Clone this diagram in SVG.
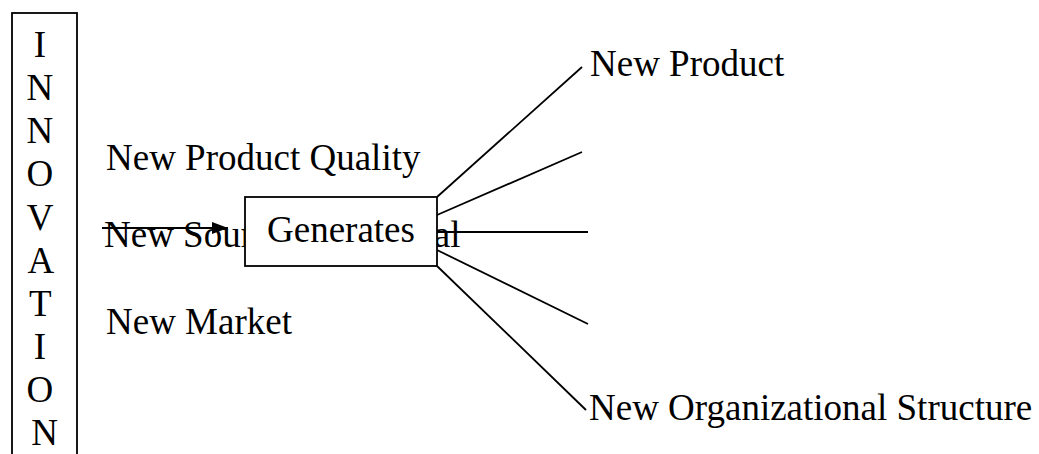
<svg xmlns="http://www.w3.org/2000/svg" width="1039" height="454" viewBox="0 0 1039 454">
<style>
text{font-family:"Liberation Serif","Times New Roman",serif;font-size:37px;fill:#000}
.ln{stroke:#000;stroke-width:1.8;fill:none}
.bx{stroke:#000;stroke-width:1.8;fill:#fff}
</style>
<defs>
<marker id="ah" markerWidth="16" markerHeight="12" refX="16" refY="6" orient="auto" markerUnits="userSpaceOnUse">
<path d="M0,0 L16,6 L0,12 Z" fill="#000"/>
</marker>
</defs>
<rect width="1039" height="454" fill="#fff"/>
<g id="innovation">
<rect class="bx" x="12" y="13" width="65" height="460"/>
<text x="44.5" text-anchor="middle">
<tspan x="44.5" y="57">I</tspan>
<tspan x="44.5" y="100">N</tspan>
<tspan x="44.5" y="143">N</tspan>
<tspan x="44.5" y="186">O</tspan>
<tspan x="44.5" y="230">V</tspan>
<tspan x="44.5" y="273">A</tspan>
<tspan x="44.5" y="316">T</tspan>
<tspan x="44.5" y="359">I</tspan>
<tspan x="44.5" y="402">O</tspan>
<tspan x="44.5" y="445">N</tspan>
</text>
</g>
<g id="quality"><text x="106" y="170">New Product Quality</text></g>
<g id="source"><text x="104" y="247">New Source of Material</text></g>
<g id="market"><text x="106" y="334">New Market</text></g>
<g id="product"><text x="590" y="76">New Product</text></g>
<g id="org"><text x="589" y="420">New Organizational Structure</text></g>
<g id="connectors">
<line class="ln" x1="102" y1="228" x2="228" y2="228" marker-end="url(#ah)"/>
<line class="ln" x1="437" y1="197" x2="582" y2="67"/>
<line class="ln" x1="437" y1="215" x2="582" y2="152"/>
<line class="ln" x1="437" y1="232" x2="588" y2="232"/>
<line class="ln" x1="437" y1="250" x2="588" y2="324"/>
<line class="ln" x1="437" y1="266" x2="586" y2="410"/>
</g>
<g id="generates">
<rect class="bx" x="245" y="197" width="192" height="69"/>
<text x="267" y="242">Generates</text>
</g>
</svg>
